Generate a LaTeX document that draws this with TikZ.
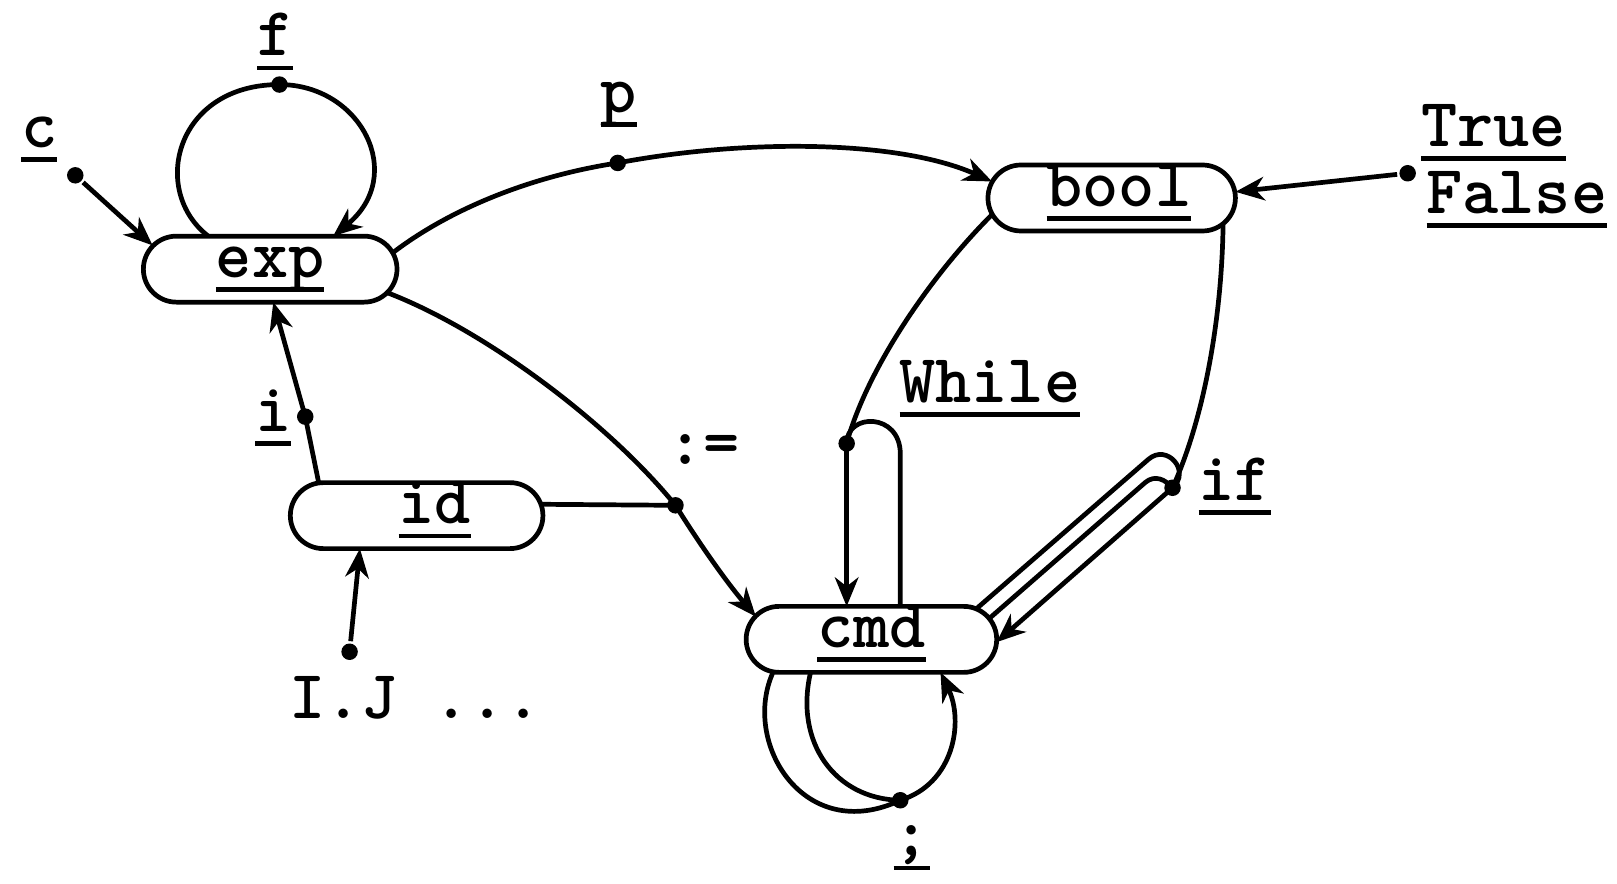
\documentclass[tikz,border=0pt]{standalone}
\usepackage{fontspec}
\newfontfamily\tw{lmmonolt10-bold.otf}
\usetikzlibrary{arrows.meta,shapes.misc}
\newsavebox\ulbox
\newcommand\myul[1]{\leavevmode\sbox\ulbox{#1}\rlap{\rule[-8pt]{\wd\ulbox}{2.5pt}}\usebox\ulbox}
\newcommand\lblfont{\fontsize{38}{44}\selectfont\tw}
\begin{document}
\begin{tikzpicture}[x=0.02cm,y=-0.02cm,line width=2.6pt,
  >={Stealth[length=16pt,width=13pt,inset=5pt]},
  pill/.style={draw,rounded rectangle,minimum height=1.28cm,inner sep=0pt,
    text height=17pt,text depth=8pt,font=\lblfont},
  dot/.style={circle,fill,inner sep=0pt,minimum size=0.32cm},
  lbl/.style={font=\lblfont,inner sep=0pt}]
\useasboundingbox (0,0) rectangle (1568,857);

% main nodes
\node[pill,minimum width=4.92cm] (exp) at (262,261) {\myul{exp}};
\node[pill,minimum width=4.80cm] (bool) at (1078,192) {\hspace*{0.28cm}\myul{bool}};
\node[pill,minimum width=4.90cm] (id) at (404,500) {\hspace*{0.7cm}\myul{id}};
\node[pill,minimum width=4.86cm] (cmd) at (845,620) {\myul{cmd}};

% junction dots
\node[dot] (cd) at (73,170) {};
\node[dot] (fd) at (271,82) {};
\node[dot] (pd) at (599,158) {};
\node[dot] (td) at (1365,168) {};
\node[dot] (ad) at (655,490) {};
\node[dot] (idot) at (296,404) {};
\node[dot] (jd) at (339,632) {};
\node[dot] (wd) at (821,430) {};
\node[dot] (ifd) at (1137,473) {};
\node[dot] (sd) at (873,776) {};

% labels
\node[lbl,anchor=base] (fl) at (267,54) {\myul{f}};
\node[lbl,anchor=base] (cl) at (38,143) {\myul{c}};
\node[lbl,anchor=base] (pl) at (600,109) {\myul{p}};
\node[lbl,anchor=base west] (tl) at (1376,142) {\myul{True}};
\node[lbl,anchor=base west] (fal) at (1381,207) {\myul{False}};
\node[lbl,anchor=base west] (wl) at (870,390) {\myul{While}};
\node[lbl,anchor=base] (al) at (682,450) {:=};
\node[lbl,anchor=base west] (ifl) at (1160,485) {\myul{if}};
\node[lbl,anchor=base] (il) at (265,418) {\myul{i}};
\node[lbl,anchor=base west] (ijl) at (278,697) {I.J ...};
\node[lbl,anchor=base] (sl) at (884,830) {\myul{;}};

% connectors
\draw[->] (cd) -- ([shift={(-114,-23)}]exp.center);
\draw[->] ([shift={(-60,-32)}]exp.center) .. controls (145,185) and (170,82) .. (fd.center)
  .. controls (350,82) and (395,170) .. ([shift={(61,-32)}]exp.center);
\draw[->] ([shift={(119,-16)}]exp.center) .. controls (440,200) and (520,170) .. (pd.center)
  .. controls (720,135) and (870,135) .. ([shift={(-116,-16)}]bool.center);
\draw[->] (td) -- ([shift={(120,-6)}]bool.center);
\draw[->] ([shift={(114,23)}]exp.center) .. controls (470,320) and (590,410) .. (ad.center)
  .. controls (680,530) and (705,565) .. ([shift={(-112,-22)}]cmd.center);
\draw ([shift={(120.5,-11)}]id.center) -- (ad.center);
\draw[->] ([shift={(-95,-32)}]id.center) -- (idot.center) -- ([shift={(3,32)}]exp.center);
\draw[->] (jd) -- ([shift={(-55,32)}]id.center);
% while
\draw ([shift={(-116,16)}]bool.center) .. controls (900,270) and (840,360) .. (wd.center);
\draw[->] (wd.center) -- ([shift={(-24,-32)}]cmd.center);
\draw ([shift={(28,-32)}]cmd.center) -- (873,440) .. controls (873,400) and (821,400) .. (wd.center);
% if
\draw ([shift={(108,26)}]bool.center) .. controls (1185,300) and (1170,400) .. (ifd.center);
\draw ([shift={(101,-29)}]cmd.center) -- (1113.6,445.4) .. controls (1131.7,429.7) and (1155.3,456.9) .. (ifd.center);
\draw ([shift={(114,-20)}]cmd.center) -- (1110.6,467.8) .. controls (1120,460) and (1130,465) .. (ifd.center);
\draw[->] (ifd.center) -- ([shift={(121.4,2.7)}]cmd.center);
% sequence
\draw ([shift={(-95,31)}]cmd.center) .. controls (718,720) and (780,820) .. (sd.center);
\draw ([shift={(-59,32)}]cmd.center) .. controls (770,720) and (810,775) .. (sd.center);
\draw[->] (sd.center) .. controls (925,760) and (935,700) .. ([shift={(67,32)}]cmd.center);
\end{tikzpicture}
\end{document}
